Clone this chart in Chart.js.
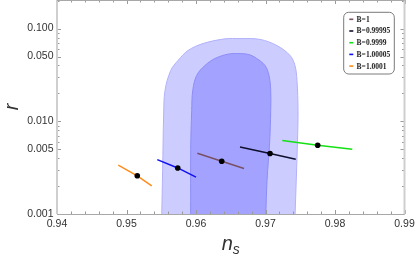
<!DOCTYPE html>
<html>
<head>
<meta charset="utf-8">
<script src="https://cdn.jsdelivr.net/npm/chart.js@4/dist/chart.umd.min.js"></script>
<style>
  html, body { margin: 0; padding: 0; background: #fff; }
  #wrap { width: 415px; height: 259px; position: relative; }
</style>
</head>
<body>
<div id="wrap"><canvas id="chart1" width="415" height="259"></canvas></div>
<script>
//--------------------------------------DATOS
var xTicks = [0.94, 0.95, 0.96, 0.97, 0.98, 0.99];
var yTicks = [0.001, 0.005, 0.01, 0.05, 0.1];

// contorno exterior (2 sigma)
var outerNs = [0.95506, 0.95520, 0.95535, 0.95554, 0.95636, 0.95741, 0.95885, 0.96101, 0.96417, 0.96633, 0.96921, 0.97165, 0.97353, 0.97424, 0.97453, 0.97468, 0.97460, 0.97424];
var outerR  = [0.0009, 0.003, 0.012, 0.0215, 0.0353, 0.0453, 0.058, 0.069, 0.0775, 0.078, 0.0765, 0.0656, 0.0513, 0.040, 0.0276, 0.0131, 0.006, 0.0009];

// contorno interior (1 sigma)
var innerNs = [0.95924, 0.95924, 0.95938, 0.95953, 0.96010, 0.96129, 0.96273, 0.96460, 0.96604, 0.96760, 0.96873, 0.96993, 0.97050, 0.97075, 0.97075, 0.97060, 0.97022, 0.97003];
var innerR  = [0.0009, 0.005, 0.0131, 0.0215, 0.0313, 0.040, 0.0476, 0.0530, 0.0538, 0.0525, 0.0476, 0.040, 0.0313, 0.0215, 0.0131, 0.006, 0.0023, 0.0009];

var labels = ["B=1", "B=0.99995", "B=0.9999", "B=1.00005", "B=1.0001"];
var colores = ["rgb(122,80,100)", "rgb(15,15,45)", "rgb(20,225,20)", "rgb(16,16,240)", "rgb(255,140,26)"];

var b1Ns = [0.96019, 0.96370, 0.96691];
var b1R  = [0.00453, 0.00371, 0.0031];
var b099995Ns = [0.96633, 0.97065, 0.97435];
var b099995R  = [0.00529, 0.00449, 0.0039];
var b09999Ns = [0.97242, 0.97751, 0.98249];
var b09999R  = [0.0062, 0.00552, 0.0050];
var b100005Ns = [0.95443, 0.95737, 0.9600];
var b100005R  = [0.003855, 0.00314, 0.0025];
var b10001Ns = [0.94882, 0.95155, 0.95363];
var b10001R  = [0.003365, 0.002582, 0.002015];

var seriesNs = [b1Ns, b099995Ns, b09999Ns, b100005Ns, b10001Ns];
var seriesR = [b1R, b099995R, b09999R, b100005R, b10001R];

function puntos(xs, ys) {
    var p = [];
    for (var i = 0; i < xs.length; i++) {
        p.push({x: xs[i], y: ys[i]});
    }
    return p;
}

//--------------------------------------DATASETS
var datasets = [{
    label: 'outer',
    data: puntos(outerNs, outerR),
    showLine: true,
    fill: 'shape',
    backgroundColor: 'rgb(204,204,255)',
    borderColor: 'rgb(178,178,252)',
    borderWidth: 1,
    tension: 0.35,
    pointRadius: 0,
    order: 10
}, {
    label: 'inner',
    data: puntos(innerNs, innerR),
    showLine: true,
    fill: 'shape',
    backgroundColor: 'rgb(163,163,255)',
    borderColor: 'rgb(140,140,248)',
    borderWidth: 1,
    tension: 0.35,
    pointRadius: 0,
    order: 9
}];

for (var k = 0; k < labels.length; k++) {
    datasets.push({
        label: labels[k],
        data: puntos(seriesNs[k], seriesR[k]),
        showLine: true,
        fill: false,
        borderColor: colores[k],
        borderWidth: 1.5,
        pointRadius: [0, 2.8, 0],
        pointBackgroundColor: '#000',
        pointBorderColor: '#000',
        pointBorderWidth: 0,
        order: 1
    });
}

//--------------------------------------MARCO, TITULOS Y LEYENDA
var marco = {
    id: 'marco',
    afterDraw: function (chart) {
        var ctx = chart.ctx;
        var a = chart.chartArea;
        var x = chart.scales.x;
        var y = chart.scales.y;
        ctx.save();

        // ticks menores y mayores hacia adentro
        ctx.strokeStyle = '#9a9a9a';
        ctx.lineWidth = 1;
        ctx.beginPath();
        for (var i = 0; i <= 25; i++) {
            var px = Math.round(x.getPixelForValue(0.94 + i * 0.002)) + 0.5;
            var len = (i % 5 == 0) ? 4 : 2.5;
            ctx.moveTo(px, a.bottom); ctx.lineTo(px, a.bottom - len);
            ctx.moveTo(px, a.top); ctx.lineTo(px, a.top + len);
        }
        for (var e = -3; e <= -1; e++) {
            for (var m = 1; m <= 9; m++) {
                var v = m * Math.pow(10, e);
                if (v > y.max) continue;
                var py = Math.round(y.getPixelForValue(v)) + 0.5;
                var l2 = (m == 1 || m == 5) ? 4 : 2.5;
                ctx.moveTo(a.left, py); ctx.lineTo(a.left + l2, py);
                ctx.moveTo(a.right, py); ctx.lineTo(a.right - l2, py);
            }
        }
        ctx.stroke();

        // marco
        ctx.strokeStyle = '#cfcfcf';
        ctx.lineWidth = 2;
        ctx.beginPath();
        ctx.moveTo(a.left, a.top); ctx.lineTo(a.left, a.bottom);
        ctx.moveTo(a.right, a.top); ctx.lineTo(a.right, a.bottom);
        ctx.stroke();
        ctx.strokeStyle = '#a8a8a8';
        ctx.lineWidth = 1;
        ctx.beginPath();
        ctx.moveTo(a.left, a.bottom + 0.5); ctx.lineTo(a.right, a.bottom + 0.5);
        ctx.moveTo(a.left, a.top + 0.5); ctx.lineTo(a.right, a.top + 0.5);
        ctx.stroke();

        // titulos de ejes
        ctx.fillStyle = '#333';
        ctx.font = 'italic 20px "Liberation Sans"';
        ctx.textBaseline = 'alphabetic';
        ctx.save();
        ctx.translate(18, 107);
        ctx.rotate(-Math.PI / 2);
        ctx.textAlign = 'center';
        ctx.fillText('r', 0, 0);
        ctx.restore();

        var cx = (a.left + a.right) / 2;
        ctx.font = 'italic 20px "Liberation Sans"';
        var wn = ctx.measureText('n').width;
        ctx.font = 'italic 14px "Liberation Sans"';
        var ws = ctx.measureText('s').width;
        var x0 = cx - (wn + ws) / 2;
        ctx.textAlign = 'left';
        ctx.font = 'italic 20px "Liberation Sans"';
        ctx.fillText('n', x0, 250);
        ctx.font = 'italic 14px "Liberation Sans"';
        ctx.fillText('s', x0 + wn, 253.5);

        // leyenda
        var bx = 343.7, by = 12.3, bw = 50.6, bh = 61.7;
        ctx.beginPath();
        ctx.roundRect(bx, by, bw, bh, 5);
        ctx.fillStyle = '#fff';
        ctx.fill();
        ctx.strokeStyle = '#7a7a7a';
        ctx.lineWidth = 1;
        ctx.stroke();
        ctx.font = 'bold 7.5px "Liberation Serif"';
        ctx.textBaseline = 'middle';
        for (var j = 0; j < labels.length; j++) {
            var ly = by + 7 + j * 11.7;
            ctx.strokeStyle = colores[j];
            ctx.lineWidth = 1.6;
            ctx.beginPath();
            ctx.moveTo(349.3, ly); ctx.lineTo(353.3, ly);
            ctx.stroke();
            ctx.fillStyle = '#222';
            ctx.fillText(labels[j], 356.6, ly + 0.5);
        }
        ctx.restore();
    }
};

//--------------------------------------GRAFICA
var popCanvas = document.getElementById("chart1");
var chart = new Chart(popCanvas, {
    type: 'scatter',
    data: {datasets: datasets},
    options: {
        responsive: false,
        animation: false,
        events: [],
        layout: {padding: {left: 0, right: 10.5, top: 0, bottom: 0}},
        plugins: {
            legend: {display: false},
            tooltip: {enabled: false}
        },
        scales: {
            x: {
                type: 'linear',
                min: 0.94,
                max: 0.99,
                grid: {display: false, drawTicks: false},
                border: {display: false},
                afterBuildTicks: function (scale) {
                    scale.ticks = xTicks.map(function (v) { return {value: v}; });
                },
                afterFit: function (scale) {
                    scale.height = 45;
                    scale.paddingLeft = 0;
                    scale.paddingRight = 0;
                },
                ticks: {
                    padding: 4,
                    maxRotation: 0,
                    autoSkip: false,
                    color: '#333',
                    font: {family: 'Liberation Sans', size: 10.5},
                    callback: function (v) { return Number(v).toFixed(2); }
                }
            },
            y: {
                type: 'logarithmic',
                min: 0.001,
                max: 0.2035,
                grid: {display: false, drawTicks: false},
                border: {display: false},
                afterBuildTicks: function (scale) {
                    scale.ticks = yTicks.map(function (v) { return {value: v}; });
                },
                afterFit: function (scale) {
                    scale.width = 57;
                    scale.paddingTop = 0;
                    scale.paddingBottom = 0;
                },
                ticks: {
                    padding: 3.5,
                    autoSkip: false,
                    color: '#333',
                    font: {family: 'Liberation Sans', size: 10.5},
                    callback: function (v) { return Number(v).toFixed(3); }
                }
            }
        }
    },
    plugins: [marco]
});
</script>
</body>
</html>
